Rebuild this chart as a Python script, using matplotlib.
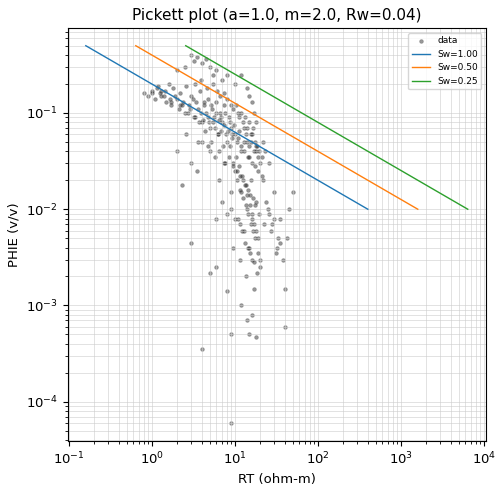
import matplotlib
matplotlib.use("Agg")
import matplotlib.pyplot as plt
import numpy as np

A = 1.0
M = 2.0
RW = 0.04
SW_LIST = [1.00, 0.50, 0.25]
PHI_ENDS = np.array([0.5, 0.01])

# points (RT, PHIE)
rt = [0.8, 0.9, 1.0, 1.1, 1.2, 1.3, 1.4, 1.5, 1.6, 1.7, 1.8, 2.0, 2.1, 2.2, 2.4, 2.5, 2.6, 2.8,
      3.0, 3.2, 3.4, 3.6, 3.8, 4.0, 4.2, 4.5, 4.8, 5.0, 5.3, 5.6, 6.0, 6.3, 6.6, 7.0, 7.5, 8.0,
      8.5, 9.0, 10, 11, 12, 13, 14, 15, 16, 18, 20, 22,
      3.0, 3.2, 3.5, 4.0, 4.5, 5.0, 5.5, 6.0, 7.0, 8.0, 10, 12, 14, 15, 16, 2.5, 2.0, 17, 18,
      2.0, 2.3, 3.0, 3.5, 4.0, 5.0, 6.0, 6.5, 7.0, 7.5, 8.0, 9.0, 9.5, 10, 11, 11.5, 12, 13,
      13.5, 14, 15, 15.5, 16, 17, 18, 19, 20, 22, 25, 27, 30, 32, 35, 38, 40, 42, 45, 50,
      3.0, 5.0, 6.0, 8.0, 9.0, 4.0, 9.0, 15, 18, 40, 12, 14, 16,
      1.0, 1.3, 1.7, 2.2, 2.7, 3.3, 4.1, 4.9, 5.8, 6.8, 7.8, 9.2, 10.5, 11.8, 13, 14.5, 16,
      17.5, 19, 21, 9.5, 10.5, 11.5, 12.5, 13.5, 14.5, 15.5, 16.5, 17.5, 19, 20, 24, 28, 33,
      8.8, 10.2, 11.2, 12.2, 13.2, 14.2, 15.2, 16.2, 17.2, 18.2, 7.2, 6.2, 5.2, 4.4, 3.7,
      1.15, 1.25, 1.45, 1.65, 1.9, 2.3, 2.9, 3.1, 3.9, 4.3, 4.7, 5.1, 5.4, 5.9, 6.4, 6.9, 7.3,
      7.7, 8.2, 8.7, 9.3, 9.8, 10.8, 11.3, 12.8, 13.8, 14.8, 15.8, 16.8, 17.8, 18.8, 19.5,
      3.3, 3.9, 4.6, 5.5, 6.1, 6.7, 7.4, 8.1, 8.9, 9.6, 10.3, 11.1, 11.9, 12.6, 13.4, 14.1,
      14.9, 15.7, 16.6, 17.7, 18.6, 21, 23, 26,
      2.6, 3.6, 4.8, 5.7, 6.5, 7.6, 8.4, 9.4, 10.6, 11.6, 12.4, 13.6, 14.6, 15.4, 16.4, 17.3,
      9.1, 10.1, 11.4, 12.3, 13.1, 14.3, 15.1, 16.1, 17.1, 18.4, 19.8, 22.5, 30, 35, 31, 26]
phie = [0.16, 0.15, 0.16, 0.14, 0.19, 0.17, 0.15, 0.13, 0.2, 0.12, 0.18, 0.14, 0.11, 0.16, 0.13,
        0.1, 0.19, 0.12, 0.15, 0.09, 0.13, 0.11, 0.17, 0.08, 0.12, 0.1, 0.14, 0.07, 0.11, 0.09,
        0.13, 0.06, 0.1, 0.08, 0.12, 0.05, 0.09, 0.07, 0.06, 0.1, 0.04, 0.07, 0.05, 0.035, 0.06,
        0.04, 0.03, 0.05,
        0.4, 0.35, 0.38, 0.33, 0.36, 0.3, 0.25, 0.28, 0.22, 0.25, 0.2, 0.25, 0.18, 0.15, 0.13,
        0.3, 0.28, 0.1, 0.08,
        0.04, 0.018, 0.03, 0.025, 0.05, 0.04, 0.008, 0.02, 0.012, 0.03, 0.009, 0.015, 0.004,
        0.025, 0.008, 0.003, 0.015, 0.006, 0.002, 0.01, 0.004, 0.02, 0.008, 0.0015, 0.012,
        0.005, 0.003, 0.02, 0.01, 0.006, 0.015, 0.004, 0.008, 0.003, 0.0015, 0.005, 0.01, 0.015,
        0.0045, 0.0022, 0.0025, 0.0014, 0.0005, 0.00035, 0.00006, 0.0005, 0.00047, 0.0006,
        0.001, 0.0007, 0.0008,
        0.17, 0.15, 0.13, 0.12, 0.1, 0.09, 0.085, 0.08, 0.07, 0.065, 0.06, 0.055, 0.05, 0.045,
        0.04, 0.035, 0.03, 0.028, 0.025, 0.022, 0.03, 0.02, 0.016, 0.013, 0.011, 0.009, 0.007,
        0.006, 0.005, 0.0035, 0.0025, 0.012, 0.007, 0.005,
        0.045, 0.035, 0.028, 0.022, 0.018, 0.014, 0.011, 0.009, 0.007, 0.006, 0.045, 0.06,
        0.05, 0.065, 0.08,
        0.18, 0.16, 0.17, 0.14, 0.15, 0.12, 0.11, 0.14, 0.1, 0.13, 0.09, 0.12, 0.08, 0.1,
        0.085, 0.09, 0.075, 0.1, 0.065, 0.08, 0.06, 0.075, 0.055, 0.065, 0.05, 0.06, 0.045,
        0.05, 0.04, 0.045, 0.035, 0.04,
        0.2, 0.22, 0.18, 0.2, 0.17, 0.15, 0.16, 0.14, 0.12, 0.11, 0.12, 0.09, 0.1, 0.08, 0.09,
        0.07, 0.08, 0.06, 0.07, 0.05, 0.045, 0.035, 0.04, 0.03,
        0.06, 0.05, 0.045, 0.035, 0.04, 0.03, 0.035, 0.028, 0.025, 0.022, 0.02, 0.018, 0.016,
        0.014, 0.013, 0.011,
        0.01, 0.008, 0.007, 0.006, 0.0045, 0.004, 0.0035, 0.003, 0.0028, 0.0022, 0.009, 0.007,
        0.008, 0.0045, 0.0035, 0.009]

fig, ax = plt.subplots(figsize=(5.02, 4.95), dpi=100)
ax.scatter(rt, phie, s=7, c="black", alpha=0.4, edgecolors="#555555", linewidths=0.6, label="data")
for sw in SW_LIST:
    rt_line = A * RW / (PHI_ENDS ** M * sw ** 2)
    ax.plot(rt_line, PHI_ENDS, lw=1, label="Sw=%.2f" % sw)
ax.set_xscale("log")
ax.set_yscale("log")
ax.set_xlim(0.097, 1.06e4)
ax.set_ylim(3.9e-5, 0.76)
ax.grid(True, which="both", color="#cccccc", lw=0.5, alpha=0.8)
ax.set_xlabel("RT (ohm-m)", fontsize=9.5)
ax.set_ylabel("PHIE (v/v)", fontsize=9.5)
ax.tick_params(labelsize=9.5)
ax.set_title("Pickett plot (a=1.0, m=2.0, Rw=0.04)", fontsize=11)
ax.legend(fontsize=6.5, loc="upper right")
fig.subplots_adjust(left=0.135, right=0.968, top=0.943, bottom=0.109)
fig.savefig("out.png")
